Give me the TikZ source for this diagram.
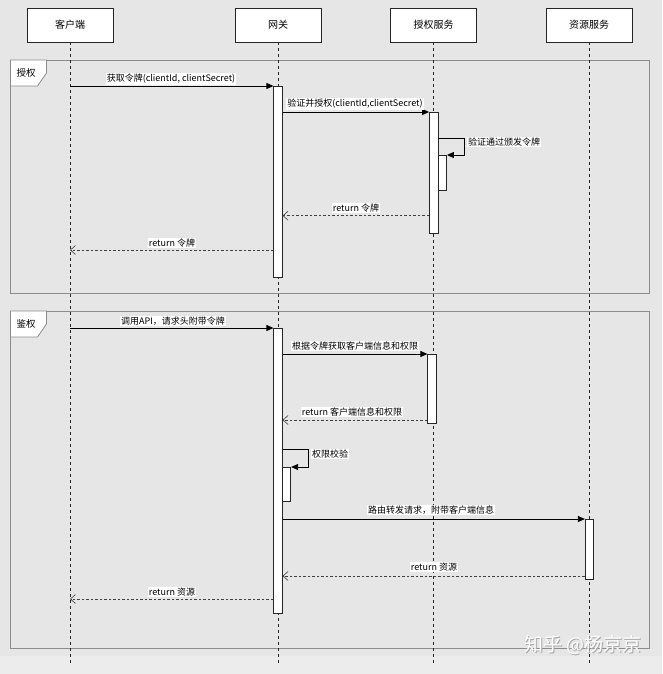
\documentclass[tikz,border=0pt]{standalone}
\usepackage{fontspec}
\setmainfont{Noto Sans CJK SC}
\usetikzlibrary{arrows.meta}
\definecolor{bggray}{HTML}{E6E6E6}
\definecolor{bandgray}{HTML}{ECECEC}
\definecolor{framegray}{HTML}{8C8C8C}
\tikzset{
  actor/.style={draw=black!85, fill=white, line width=0.7pt, minimum width=86pt, minimum height=34pt, inner sep=0pt, font=\fontsize{10}{12}\selectfont},
  life/.style={dash pattern=on 3pt off 3pt, black!85, line width=0.6pt},
  bar/.style={draw=black!85, fill=white, line width=0.7pt, minimum width=8.5pt, inner sep=0pt, anchor=north},
  call/.style={-{Triangle[length=7pt,width=6pt]}, line width=0.8pt},
  reply/.style={dash pattern=on 2.5pt off 2pt, -{Straight Barb[length=5pt,width=9pt,line width=0.6pt]}, black!75, line width=0.7pt},
  msg/.style={fill=white, inner sep=1pt, font=\fontsize{9}{10}\selectfont},
  frame/.style={draw=framegray, line width=0.8pt},
  tab/.style={font=\fontsize{9.5}{11}\selectfont},
}
\begin{document}
\begin{tikzpicture}[x=1pt,y=-1pt]
\useasboundingbox (0,0) rectangle (662,674);
\fill[bggray] (0,0) rectangle (662,674);
\fill[bandgray] (0,656) rectangle (662,674);

% participants
\node[actor] (client) at (70,25) {客户端};
\node[actor] (gw) at (278,25) {网关};
\node[actor] (auth) at (433.5,25) {授权服务};
\node[actor] (res) at (589,25) {资源服务};

% frames
\draw[frame] (10.5,60) rectangle (649,293);
\draw[frame, fill=white] (10.5,60) -- (46.5,60) -- (46.5,73) -- (37.5,86) -- (10.5,86) -- cycle;
\node[tab] (authz) at (26,72.5) {授权};

\draw[frame] (10.5,311) rectangle (649,648);
\draw[frame, fill=white] (10.5,311) -- (46.5,311) -- (46.5,324) -- (37.5,337) -- (10.5,337) -- cycle;
\node[tab] (authn) at (26,323.5) {鉴权};

% lifelines
\coordinate (bottom) at (0,664);
\foreach \p in {client,gw,auth,res}
  \draw[life] (\p.south) -- (\p.south |- bottom);

% activations
\node[bar, minimum height=191pt] (gw1) at (278,86) {};
\node[bar, minimum height=121pt] (ab1) at (433.7,112) {};
\node[bar, minimum height=35pt] (ab1n) at (442.3,155) {};
\node[bar, minimum height=285pt] (gw2) at (278,328) {};
\node[bar, minimum height=69pt] (ab2) at (432,354) {};
\node[bar, minimum height=34pt] (gwn) at (286.5,467) {};
\node[bar, minimum height=60pt] (rb) at (589.5,519) {};

% authorisation
\draw[call] (client |- gw1.north) -- (gw1.north west);
\node[msg] (l1) at (171,79) {获取令牌(clientId, clientSecret)};
\draw[call] (ab1.north west -| gw1.east) -- (ab1.north west);
\node[msg] (l2) at (355,104) {验证并授权(clientId,clientSecret)};
\coordinate (s1) at (464.5,138);
\draw[call] (ab1.east |- s1) -- (s1) |- (ab1n.north east);
\node[msg, anchor=west] (l3) at (467,142) {验证通过颁发令牌};
\coordinate (r1) at (0,215.7);
\draw[reply] (ab1.west |- r1) -- (gw1.east |- r1);
\node[msg] (l4) at (356,208) {return 令牌};
\coordinate (r2) at (0,250);
\draw[reply] (gw1.west |- r2) -- (client |- r2);
\node[msg] (l5) at (172,243) {return 令牌};

% authentication
\draw[call] (client |- gw2.north) -- (gw2.north west);
\node[msg] (l6) at (173,321) {调用API，请求头附带令牌};
\draw[call] (ab2.north west -| gw2.east) -- (ab2.north west);
\node[msg] (l7) at (355,346) {根据令牌获取客户端信息和权限};
\coordinate (r3) at (0,420);
\draw[reply] (ab2.west |- r3) -- (gw2.east |- r3);
\node[msg] (l8) at (352,412) {return 客户端信息和权限};
\coordinate (s2) at (308,449);
\draw[call] (gw2.east |- s2) -- (s2) |- (gwn.north east);
\node[msg, anchor=west] (l9) at (311,454) {权限校验};
\draw[call] (rb.north west -| gw2.east) -- (rb.north west);
\node[msg] (l10) at (431,510) {路由转发请求，附带客户端信息};
\coordinate (r4) at (0,576);
\draw[reply] (rb.west |- r4) -- (gw2.east |- r4);
\node[msg] (l11) at (434,567) {return 资源};
\coordinate (r5) at (0,599);
\draw[reply] (gw2.west |- r5) -- (client |- r5);
\node[msg] (l12) at (172,592) {return 资源};

% watermark
\node[text=black!35, font=\fontsize{19}{21}\selectfont] (wm0) at (584,646.5) {知乎 @杨京京};
\node[text=white, font=\fontsize{19}{21}\selectfont] (wm) at (583,645.5) {知乎 @杨京京};
\end{tikzpicture}
\end{document}
